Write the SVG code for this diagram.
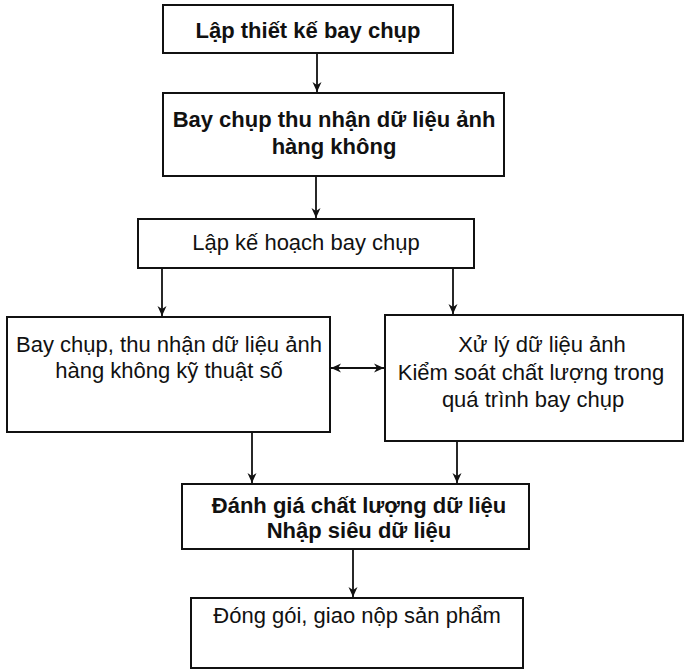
<svg xmlns="http://www.w3.org/2000/svg" width="691" height="672" viewBox="0 0 691 672">
<style>
.box{fill:#fff;stroke:#111;stroke-width:2}
.t{font-family:"Liberation Sans",Arial,sans-serif;font-size:22px;fill:#111;text-anchor:middle}
.b{font-weight:bold;font-size:22px}
.c{stroke:#111;stroke-width:1.8;fill:none}
</style>
<defs>
<marker id="ah" viewBox="0 0 10 10" refX="10" refY="5" markerWidth="10" markerHeight="10" markerUnits="userSpaceOnUse" orient="auto-start-reverse">
<path d="M0,0.5 L10,5 L0,9.5 L3,5 Z" fill="#111"/>
</marker>
</defs>
<rect width="691" height="672" fill="#fff"/>
<g id="n1"><rect class="box" x="163" y="5" width="290" height="48"/><text class="t b" x="308" y="38">Lập thiết kế bay chụp</text></g>
<g id="n2"><rect class="box" x="163" y="93" width="341" height="83"/><text class="t b" x="334" y="127">Bay chụp thu nhận dữ liệu ảnh</text><text class="t b" x="334" y="154">hàng không</text></g>
<g id="n3"><rect class="box" x="138" y="219" width="336" height="49"/><text class="t" x="306" y="250">Lập kế hoạch bay chụp</text></g>
<g id="n4"><rect class="box" x="7" y="317" width="323" height="115"/><text class="t" x="169" y="352">Bay chụp, thu nhận dữ liệu ảnh</text><text class="t" x="169" y="378">hàng không kỹ thuật số</text></g>
<g id="n5"><rect class="box" x="385" y="315" width="298" height="126"/><text class="t" x="542" y="352">Xử lý dữ liệu ảnh</text><text class="t" x="531" y="380">Kiểm soát chất lượng trong</text><text class="t" x="533" y="407">quá trình bay chụp</text></g>
<g id="n6"><rect class="box" x="182" y="484" width="347" height="65"/><text class="t b" x="359" y="513">Đánh giá chất lượng dữ liệu</text><text class="t b" x="359" y="538">Nhập siêu dữ liệu</text></g>
<g id="n7"><rect class="box" x="191" y="598" width="332" height="70"/><text class="t" x="357" y="623">Đóng gói, giao nộp sản phẩm</text></g>
<g id="connectors">
<line class="c" x1="317" y1="53" x2="317" y2="92" marker-end="url(#ah)"/>
<line class="c" x1="316" y1="176" x2="316" y2="218" marker-end="url(#ah)"/>
<line class="c" x1="162" y1="268" x2="162" y2="316" marker-end="url(#ah)"/>
<line class="c" x1="453" y1="268" x2="453" y2="314" marker-end="url(#ah)"/>
<line class="c" x1="331" y1="368" x2="384" y2="368" marker-start="url(#ah)" marker-end="url(#ah)"/>
<line class="c" x1="252" y1="432" x2="252" y2="483" marker-end="url(#ah)"/>
<line class="c" x1="457" y1="441" x2="457" y2="483" marker-end="url(#ah)"/>
<line class="c" x1="353" y1="549" x2="353" y2="597" marker-end="url(#ah)"/>
</g>
</svg>
